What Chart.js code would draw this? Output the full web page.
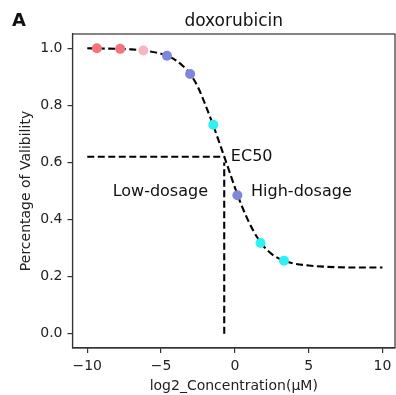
<!DOCTYPE html>
<html>
<head>
<meta charset="utf-8">
<script src="https://cdn.jsdelivr.net/npm/chart.js@4.4.0/dist/chart.umd.min.js"></script>
<style>
  html, body { margin: 0; padding: 0; background: #fff; }
</style>
</head>
<body>
<canvas id="doseCanvas" width="396" height="395"></canvas>
<script>
// measured doses (log2 uM) and viability
const doseX = [-9.35, -7.77, -6.2, -4.6, -3.03, -1.46, 0.17, 1.74, 3.33];
const viability = [1.0, 0.998, 0.992, 0.974, 0.910, 0.732, 0.485, 0.318, 0.256];
const pointColors = ['#f5737d', '#f5737d', '#f7b5c4', '#7f87dc', '#7f87dc', '#2ff0f5', '#7f87dc', '#2ff0f5', '#2ff0f5'];

// fitted curve
const curveX = [-10, -9, -8, -7, -6, -5, -4.5, -4, -3.5, -3, -2.5, -2, -1.5, -1, -0.5, 0, 0.5, 1, 1.5, 2, 2.5, 3, 3.5, 4, 5, 6, 7, 8, 9, 10];
const curveY = [1.0, 0.999, 0.998, 0.996, 0.991, 0.981, 0.972, 0.958, 0.937, 0.908, 0.864, 0.802, 0.735, 0.662, 0.588, 0.513, 0.444, 0.386, 0.339, 0.303, 0.279, 0.263, 0.253, 0.246, 0.239, 0.235, 0.233, 0.232, 0.232, 0.232];

// EC50 guide lines
const ec50X = -0.72;
const ec50Y = 0.62;
const vlineTopY = 0.6;
const guideStartX = -10;

const xTicks = [-10, -5, 0, 5, 10];
const yTicks = [0, 0.2, 0.4, 0.6, 0.8, 1.0];

const FONT = '"DejaVu Sans", sans-serif';
const dash = [7, 3.5];

const labelPlugin = {
    id: 'labels',
    afterDraw(chart) {
        const { ctx, chartArea, scales: { x, y } } = chart;
        ctx.save();
        // frame
        ctx.strokeStyle = '#333';
        ctx.lineWidth = 1.2;
        ctx.strokeRect(chartArea.left, chartArea.top, chartArea.right - chartArea.left, chartArea.bottom - chartArea.top);

        ctx.fillStyle = '#111';
        ctx.textBaseline = 'alphabetic';
        ctx.font = '16px ' + FONT;
        ctx.textAlign = 'left';
        ctx.fillText('EC50', x.getPixelForValue(-0.27), y.getPixelForValue(0.606));
        ctx.textAlign = 'center';
        ctx.fillText('Low-dosage', x.getPixelForValue(-5.05), y.getPixelForValue(0.484));
        ctx.textAlign = 'left';
        ctx.fillText('High-dosage', x.getPixelForValue(1.1), y.getPixelForValue(0.484));

        // title + panel letter
        ctx.font = '17px ' + FONT;
        ctx.textAlign = 'center';
        ctx.fillText('doxorubicin', (chartArea.left + chartArea.right) / 2, 26);
        ctx.font = 'bold 18px ' + FONT;
        ctx.textAlign = 'left';
        ctx.fillText('A', 12, 26);
        ctx.restore();
    }
};

const lineStyle = {
    showLine: true,
    borderColor: '#000',
    borderWidth: 2.1,
    borderDash: dash,
    pointRadius: 0,
    fill: false,
    order: 1
};

const ctx = document.getElementById('doseCanvas').getContext('2d');
const doseChart = new Chart(ctx, {
    type: 'scatter',
    data: {
        datasets: [
            {
                label: 'measured',
                data: doseX.map((v, i) => ({ x: v, y: viability[i] })),
                pointBackgroundColor: pointColors,
                pointBorderWidth: 0,
                pointRadius: 5,
                order: 0
            },
            Object.assign({
                label: 'fit',
                data: curveX.map((v, i) => ({ x: v, y: curveY[i] })),
                cubicInterpolationMode: 'monotone'
            }, lineStyle),
            Object.assign({
                label: 'hline',
                data: [{ x: guideStartX, y: ec50Y }, { x: ec50X, y: ec50Y }]
            }, lineStyle),
            Object.assign({
                label: 'vline',
                data: [{ x: ec50X, y: 0 }, { x: ec50X, y: vlineTopY }]
            }, lineStyle)
        ]
    },
    options: {
        responsive: false,
        animation: false,
        devicePixelRatio: 1,
        layout: { autoPadding: false, padding: { top: 34, right: 1, left: 0, bottom: 0 } },
        plugins: {
            legend: { display: false },
            tooltip: { enabled: false },
            title: { display: false }
        },
        scales: {
            x: {
                type: 'linear',
                min: -11,
                max: 10.85,
                afterBuildTicks: s => { s.ticks = xTicks.map(v => ({ value: v })); },
                afterFit: s => { s.height = 47; s.paddingLeft = 0; s.paddingRight = 0; },
                grid: { drawOnChartArea: false, drawTicks: true, tickLength: 5, color: '#333', lineWidth: 1.2 },
                border: { display: true, color: '#333', width: 1.2 },
                ticks: {
                    padding: 5,
                    color: '#222',
                    font: { family: FONT, size: 14 },
                    maxRotation: 0,
                    callback: v => (v < 0 ? '\u2212' + Math.abs(v) : String(v))
                },
                title: {
                    display: true,
                    text: 'log2_Concentration(\u03bcM)',
                    color: '#222',
                    font: { family: FONT, size: 14 },
                    padding: { top: 1, bottom: 0 }
                }
            },
            y: {
                type: 'linear',
                min: -0.05,
                max: 1.05,
                afterBuildTicks: s => { s.ticks = yTicks.map(v => ({ value: v })); },
                afterFit: s => { s.width = 72.5; s.paddingTop = 0; s.paddingBottom = 0; },
                grid: { drawOnChartArea: false, drawTicks: true, tickLength: 5, color: '#333', lineWidth: 1.2 },
                border: { display: true, color: '#333', width: 1.2 },
                ticks: {
                    padding: 5,
                    color: '#222',
                    font: { family: FONT, size: 14 },
                    callback: v => v.toFixed(1)
                },
                title: {
                    display: true,
                    text: 'Percentage of Valibility',
                    color: '#222',
                    font: { family: FONT, size: 14 },
                    padding: { top: 18, bottom: 0 }
                }
            }
        }
    },
    plugins: [labelPlugin]
});
</script>
</body>
</html>
